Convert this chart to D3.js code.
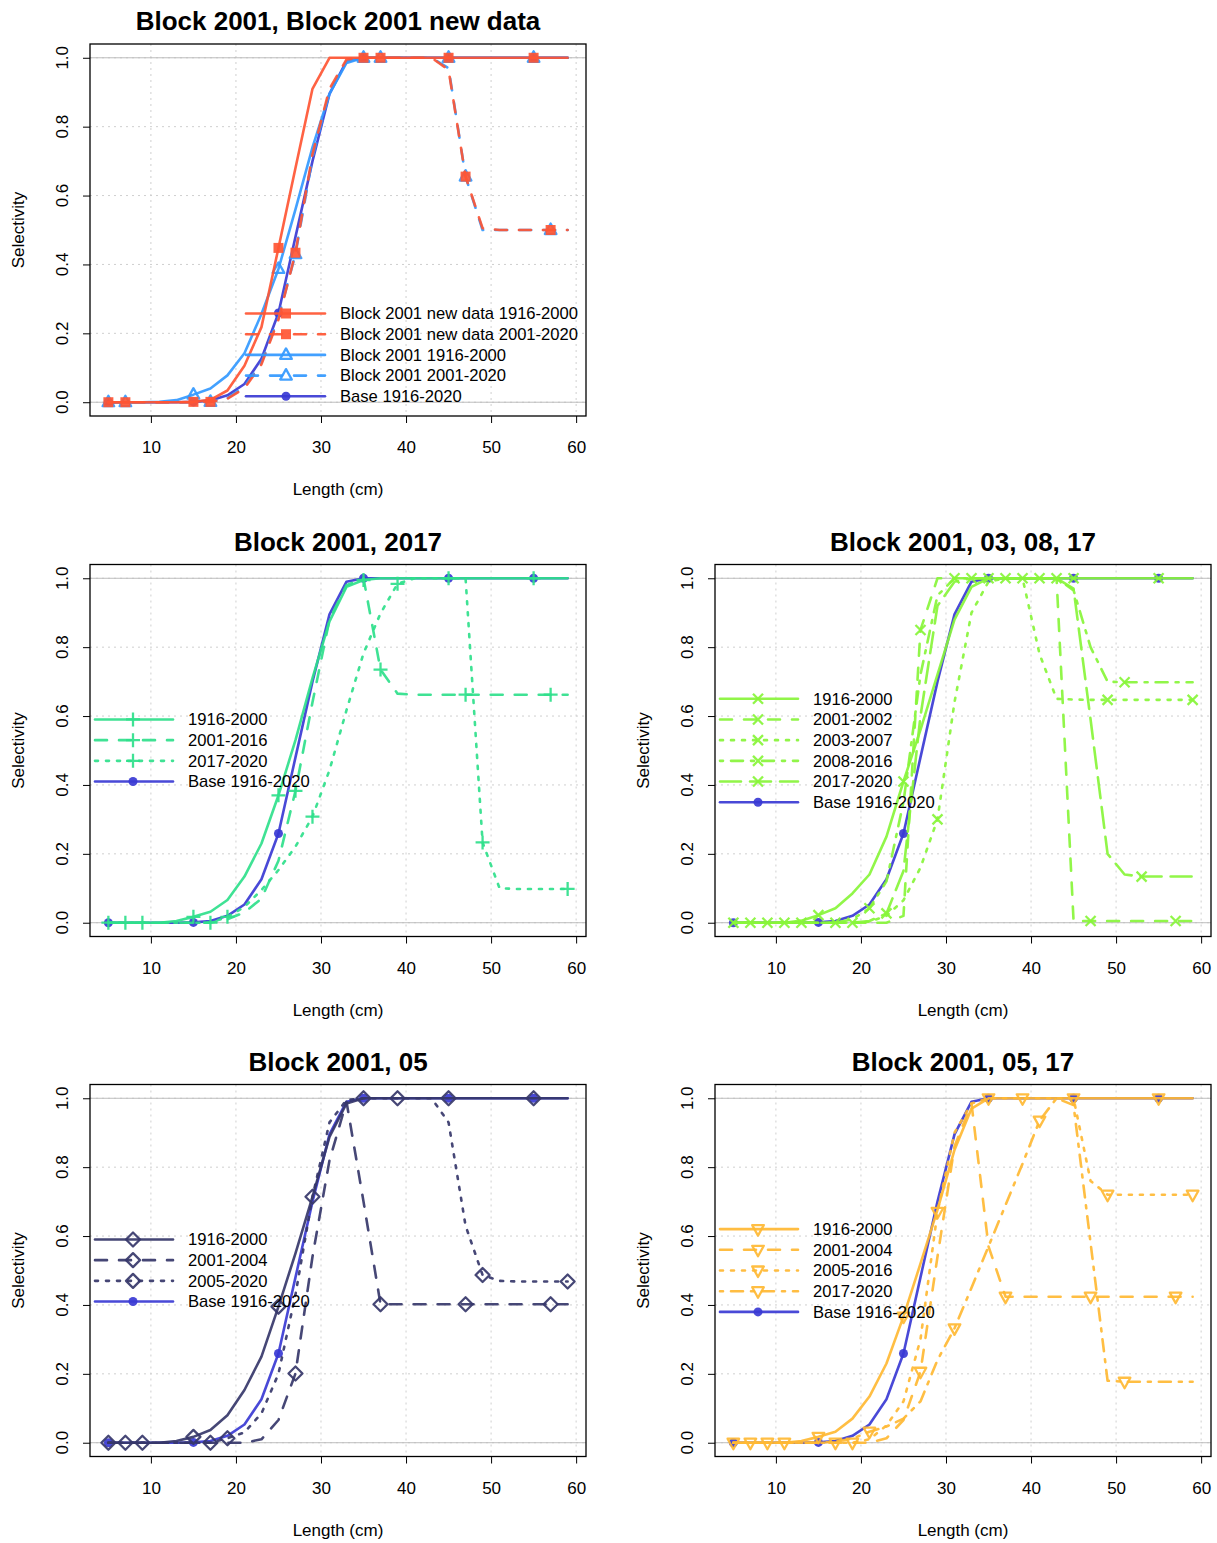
<!DOCTYPE html>
<html lang="en">
<head>
<meta charset="utf-8">
<title>Selectivity by block</title>
<script src="https://d3js.org/d3.v7.min.js"></script>
<style>
  body { margin: 0; background: #fff; }
  svg { font-family: "Liberation Sans", Arial, sans-serif; }
</style>
</head>
<body>
<svg id="chart" width="1217" height="1543"></svg>
<script>
// Length bins (cm) and axis ticks
var lengths = d3.range(5, 60, 2);   // 5, 7, ..., 59
var xTicks = [10, 20, 30, 40, 50, 60];
var yTicks = [0, 0.2, 0.4, 0.6, 0.8, 1.0];

// Base model, shared by all panels
var base = [0,0,0,0,0,0.001,0.005,0.02,0.053,0.126,0.259,0.48,0.70,0.895,0.99,1,1,1,1,1,1,1,1,1,1,1,1,1];

// Panel 1: Block 2001 / Block 2001 new data
var newData1916 = [0,0,0,0,0,0.001,0.007,0.034,0.106,0.218,0.448,0.68,0.91,1,1,1,1,1,1,1,1,1,1,1,1,1,1,1];
var newData2001 = [0,0,0,0,0,0,0.001,0.01,0.04,0.11,0.24,0.434,0.72,0.91,0.995,1,1,1,1,1,0.965,0.655,0.505,0.5,0.5,0.5,0.5,0.5];
var block1916 = [0,0,0,0.001,0.006,0.022,0.04,0.078,0.142,0.256,0.387,0.56,0.74,0.895,0.985,1,1,1,1,1,1,1,1,1,1,1,1,1];
var block2001 = [0,0,0,0,0,0,0.001,0.012,0.045,0.115,0.245,0.43,0.71,0.9,0.99,1,1,1,1,1,0.97,0.655,0.5,0.5,0.5,0.5,0.5,0.5];

// Panel 2: Block 2001, 2017
var g1916 = [0,0,0,0,0.005,0.017,0.032,0.066,0.134,0.23,0.37,0.53,0.71,0.875,0.975,0.995,1,1,1,1,1,1,1,1,1,1,1,1];
var g2001 = [0,0,0,0,0,0,0,0.01,0.03,0.07,0.18,0.383,0.64,0.88,0.98,1,0.735,0.665,0.662,0.662,0.662,0.662,0.662,0.662,0.662,0.662,0.662,0.662];
var g2017 = [0,0,0,0,0,0,0,0.017,0.046,0.095,0.153,0.221,0.308,0.443,0.617,0.782,0.898,0.984,1,1,1,1,0.233,0.1,0.098,0.098,0.098,0.098];

// Panel 3: Block 2001, 03, 08, 17
var l1916 = [0,0,0,0,0.006,0.022,0.042,0.085,0.14,0.25,0.41,0.56,0.72,0.88,0.975,1,1,1,1,1,1,1,1,1,1,1,1,1];
var l2001 = [0,0,0,0,0,0,0,0,0,0,0.02,0.85,1,1,1,1,1,1,1,1,0.005,0.005,0.005,0.005,0.005,0.005,0.005,0.005];
var l2003 = [0,0,0,0,0,0,0,0,0.003,0.02,0.065,0.16,0.30,0.64,0.9,0.99,1,1,0.78,0.65,0.648,0.647,0.647,0.647,0.647,0.647,0.647,0.647];
var l2008 = [0,0,0,0,0,0,0,0.01,0.042,0.12,0.35,0.72,0.95,1,1,1,1,1,1,1,0.965,0.8,0.70,0.698,0.698,0.698,0.698,0.698];
var l2017 = [0,0,0,0,0,0,0,0,0.005,0.027,0.15,0.6,0.92,0.99,1,1,1,1,1,1,0.97,0.59,0.2,0.14,0.134,0.134,0.134,0.134];

// Panel 5: Block 2001, 05
var n1916 = [0,0,0,0,0.005,0.017,0.037,0.08,0.153,0.25,0.395,0.55,0.714,0.888,0.985,1,1,1,1,1,1,1,1,1,1,1,1,1];
var n2001 = [0,0,0,0,0,0,0,0,0,0.01,0.066,0.201,0.54,0.82,0.99,0.7,0.402,0.402,0.402,0.402,0.402,0.402,0.402,0.402,0.402,0.402,0.402,0.402];
var n2005 = [0,0,0,0,0,0,0,0.013,0.03,0.085,0.2,0.43,0.714,0.93,0.995,1,1,1,1,1,0.93,0.63,0.487,0.47,0.468,0.468,0.468,0.468];

// Panel 6: Block 2001, 05, 17
var o1916 = [0,0,0,0,0.005,0.017,0.032,0.07,0.134,0.23,0.366,0.52,0.676,0.85,0.97,1,1,1,1,1,1,1,1,1,1,1,1,1];
var o2001 = [0,0,0,0,0,0,0,0,0,0.013,0.066,0.206,0.54,0.86,0.985,0.57,0.424,0.424,0.424,0.424,0.424,0.424,0.424,0.424,0.424,0.424,0.424,0.424];
var o2005 = [0,0,0,0,0,0,0,0,0.01,0.05,0.12,0.3,0.67,0.9,0.985,1,1,1,1,1,1,0.76,0.72,0.72,0.72,0.72,0.72,0.72];
var o2017 = [0,0,0,0,0,0,0.003,0.012,0.032,0.047,0.07,0.12,0.24,0.332,0.45,0.57,0.69,0.81,0.935,1,0.98,0.58,0.18,0.177,0.177,0.177,0.177,0.177];

// colours
var cBase = "#3a3ad4", cRed = "#ff5533", cLBlue = "#3399ff", cTeal = "#2fe08b",
    cLime = "#88f53a", cNavy = "#36376a", cOrange = "#ffb833";

var baseSeries = { label: "Base 1916-2020", values: base, color: cBase, lty: 1, pch: "circle", offset: 0 };

// drawOrder: indices into series (base is always drawn first)
var panels = [
  { title: "Block 2001, Block 2001 new data", col: 0, row: 0, legend: "bottomright", drawOrder: [2, 3, 0, 1],
    series: [
      { label: "Block 2001 new data 1916-2000", values: newData1916, color: cRed, lty: 1, pch: "square", offset: 0 },
      { label: "Block 2001 new data 2001-2020", values: newData2001, color: cRed, lty: 2, pch: "square", offset: 1 },
      { label: "Block 2001 1916-2000", values: block1916, color: cLBlue, lty: 1, pch: "triangle", offset: 0 },
      { label: "Block 2001 2001-2020", values: block2001, color: cLBlue, lty: 2, pch: "triangle", offset: 1 }
    ]},
  { title: "Block 2001, 2017", col: 0, row: 1, legend: "left", drawOrder: [0, 1, 2],
    series: [
      { label: "1916-2000", values: g1916, color: cTeal, lty: 1, pch: "plus", offset: 0 },
      { label: "2001-2016", values: g2001, color: cTeal, lty: 2, pch: "plus", offset: 1 },
      { label: "2017-2020", values: g2017, color: cTeal, lty: 3, pch: "plus", offset: 2 }
    ]},
  { title: "Block 2001, 03, 08, 17", col: 1, row: 1, legend: "left", drawOrder: [0, 1, 2, 3, 4],
    series: [
      { label: "1916-2000", values: l1916, color: cLime, lty: 1, pch: "cross", offset: 0 },
      { label: "2001-2002", values: l2001, color: cLime, lty: 2, pch: "cross", offset: 1 },
      { label: "2003-2007", values: l2003, color: cLime, lty: 3, pch: "cross", offset: 2 },
      { label: "2008-2016", values: l2008, color: cLime, lty: 4, pch: "cross", offset: 3 },
      { label: "2017-2020", values: l2017, color: cLime, lty: 5, pch: "cross", offset: 4 }
    ]},
  { title: "Block 2001, 05", col: 0, row: 2, legend: "left", drawOrder: [0, 1, 2],
    series: [
      { label: "1916-2000", values: n1916, color: cNavy, lty: 1, pch: "diamond", offset: 0 },
      { label: "2001-2004", values: n2001, color: cNavy, lty: 2, pch: "diamond", offset: 1 },
      { label: "2005-2020", values: n2005, color: cNavy, lty: 3, pch: "diamond", offset: 2 }
    ]},
  { title: "Block 2001, 05, 17", col: 1, row: 2, legend: "left", drawOrder: [0, 1, 2, 3],
    series: [
      { label: "1916-2000", values: o1916, color: cOrange, lty: 1, pch: "down", offset: 0 },
      { label: "2001-2004", values: o2001, color: cOrange, lty: 2, pch: "down", offset: 1 },
      { label: "2005-2016", values: o2005, color: cOrange, lty: 3, pch: "down", offset: 2 },
      { label: "2017-2020", values: o2017, color: cOrange, lty: 4, pch: "down", offset: 3 }
    ]}
];

// layout of plot boxes
var colLeft = [90, 715];
var rowTop = [44, 564.5, 1084.5];
var boxW = 496, boxH = 372;
var lineW = 2.6;

// R line types -> dash arrays (round caps)
var dashes = { 1: null, 2: "12,12", 3: "3,8", 4: "3,8,12,8", 5: "21,9" };

function markerPath(pch) {
  switch (pch) {
    case "square": return "M-5,-5H5V5H-5Z";
    case "triangle": return "M0,-6.5L5.8,4L-5.8,4Z";
    case "down": return "M0,6.5L5.8,-4L-5.8,-4Z";
    case "plus": return "M-7,0H7M0,-7V7";
    case "cross": return "M-5,-5L5,5M-5,5L5,-5";
    case "diamond": return "M0,-7L7,0L0,7L-7,0Z";
  }
  return null;
}

function drawMarker(g, pch, color, x, y) {
  if (pch === "circle") {
    g.append("circle").attr("cx", x).attr("cy", y).attr("r", 4.5)
      .attr("fill", color).attr("opacity", 0.92);
    return;
  }
  var filled = pch === "square";
  g.append("path")
    .attr("d", markerPath(pch))
    .attr("transform", "translate(" + x + "," + y + ")")
    .attr("fill", filled ? color : "none")
    .attr("stroke", color)
    .attr("stroke-width", filled ? 0 : 2.3)
    .attr("stroke-linejoin", "round")
    .attr("opacity", 0.92);
}

var svg = d3.select("#chart");

panels.forEach(function(p) {
  var left = colLeft[p.col], top = rowTop[p.row];
  var right = left + boxW, bottom = top + boxH;

  var x = d3.scaleLinear().domain([2.84, 61.16]).range([left, right]);
  var y = d3.scaleLinear().domain([-0.04, 1.04]).range([bottom, top]);

  var g = svg.append("g");

  // grid
  g.selectAll(".vgrid").data(xTicks).enter().append("line")
    .attr("x1", function(d) { return x(d); }).attr("x2", function(d) { return x(d); })
    .attr("y1", top).attr("y2", bottom)
    .attr("stroke", "#cfcfcf").attr("stroke-dasharray", "2,4");
  g.selectAll(".hgrid").data(yTicks).enter().append("line")
    .attr("x1", left).attr("x2", right)
    .attr("y1", function(d) { return y(d); }).attr("y2", function(d) { return y(d); })
    .attr("stroke", "#cfcfcf").attr("stroke-dasharray", "2,4");
  g.selectAll(".hline").data([0, 1]).enter().append("line")
    .attr("x1", left).attr("x2", right)
    .attr("y1", function(d) { return y(d); }).attr("y2", function(d) { return y(d); })
    .attr("stroke", "#bdbdbd").attr("stroke-width", 1);

  // axes
  var xAxis = d3.axisBottom(x).tickValues(xTicks).tickSize(7).tickSizeOuter(0);
  var gx = g.append("g").attr("transform", "translate(0," + bottom + ")").call(xAxis);
  gx.select(".domain").remove();
  gx.selectAll("line").attr("stroke", "#000");
  gx.selectAll("text").attr("font-size", 17).attr("fill", "#000").attr("dy", null).attr("y", 37);

  var yAxis = d3.axisLeft(y).tickValues(yTicks).tickSize(7).tickSizeOuter(0);
  var gy = g.append("g").attr("transform", "translate(" + left + ",0)").call(yAxis);
  gy.select(".domain").remove();
  gy.selectAll("line").attr("stroke", "#000");
  gy.selectAll("text").remove();
  yTicks.forEach(function(t) {
    g.append("text")
      .attr("transform", "translate(" + (left - 28) + "," + y(t) + ") rotate(-90)")
      .attr("text-anchor", "middle").attr("dy", "0.35em")
      .attr("font-size", 17).text(d3.format(".1f")(t));
  });

  // curves: base first, then the block series
  var line = d3.line()
    .x(function(d, i) { return x(lengths[i]); })
    .y(function(d) { return y(d); });

  var drawList = [baseSeries].concat(p.drawOrder.map(function(k) { return p.series[k]; }));
  drawList.forEach(function(s) {
    g.append("path")
      .attr("d", line(s.values))
      .attr("fill", "none")
      .attr("stroke", s.color)
      .attr("stroke-width", lineW)
      .attr("stroke-linecap", "round")
      .attr("stroke-linejoin", "round")
      .attr("stroke-dasharray", dashes[s.lty])
      .attr("opacity", 0.92);
    s.values.forEach(function(v, i) {
      if (i >= s.offset && (i - s.offset) % 5 === 0) {
        drawMarker(g, s.pch, s.color, x(lengths[i]), y(v));
      }
    });
  });

  // box
  g.append("rect").attr("x", left).attr("y", top).attr("width", boxW).attr("height", boxH)
    .attr("fill", "none").attr("stroke", "#000").attr("stroke-width", 1.3);

  // titles and axis labels
  g.append("text").attr("x", (left + right) / 2).attr("y", top - 14)
    .attr("text-anchor", "middle").attr("font-size", 26).attr("font-weight", "bold")
    .text(p.title);
  g.append("text").attr("x", (left + right) / 2).attr("y", bottom + 79)
    .attr("text-anchor", "middle").attr("font-size", 17).text("Length (cm)");
  g.append("text")
    .attr("transform", "translate(" + (left - 72) + "," + ((top + bottom) / 2) + ") rotate(-90)")
    .attr("text-anchor", "middle").attr("dy", "0.35em")
    .attr("font-size", 17).text("Selectivity");

  // legend (series in listed order, base last)
  var all = p.series.concat([baseSeries]);
  var step = 20.7, lx0, lx1, mx, tx, y0;
  if (p.legend === "bottomright") {
    lx0 = left + 156; lx1 = left + 235; mx = left + 196; tx = left + 250;
    y0 = bottom - 102.5;
  } else {
    lx0 = left + 5; lx1 = left + 83; mx = left + 43; tx = left + 98;
    y0 = (top + bottom) / 2 - (all.length - 1) / 2 * step;
  }
  var lg = g.append("g");
  all.forEach(function(s, i) {
    var ly = y0 + i * step;
    lg.append("line").attr("x1", lx0).attr("x2", lx1).attr("y1", ly).attr("y2", ly)
      .attr("stroke", s.color).attr("stroke-width", lineW)
      .attr("stroke-linecap", "round")
      .attr("stroke-dasharray", dashes[s.lty]).attr("opacity", 0.92);
    drawMarker(lg, s.pch, s.color, mx, ly);
    lg.append("text").attr("x", tx).attr("y", ly).attr("dy", "0.35em")
      .attr("font-size", 16.6).text(s.label);
  });
});
</script>
</body>
</html>
